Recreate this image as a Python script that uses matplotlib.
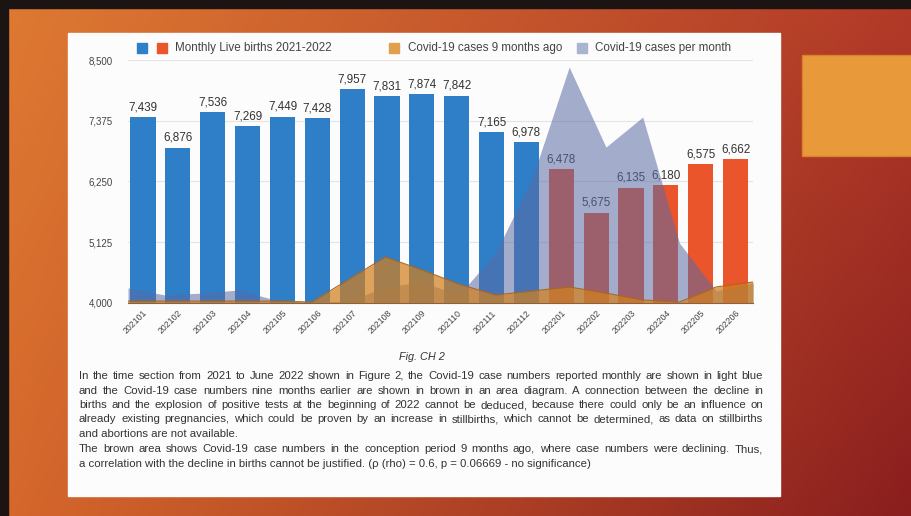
import numpy as np
import matplotlib
matplotlib.use('Agg')
import matplotlib.pyplot as plt
from matplotlib.patches import Rectangle

plt.rcParams['font.family'] = ['Liberation Sans', 'DejaVu Sans']

# monthly live births, 2021-01 .. 2022-06
months = ['202101', '202102', '202103', '202104', '202105', '202106',
          '202107', '202108', '202109', '202110', '202111', '202112',
          '202201', '202202', '202203', '202204', '202205', '202206']
births = [7439, 6876, 7536, 7269, 7449, 7428, 7957, 7831, 7874, 7842,
          7165, 6978, 6478, 5675, 6135, 6180, 6575, 6662]

# covid-19 cases (thousands) per month and 9 months earlier
cases_month = [64, 34, 42, 55, 13, 4, 8, 68, 89, 34, 212, 530,
               1000, 661, 788, 254, 51, 85]
cases_9m_ago = [8, 8, 8, 8, 8, 4, 100, 195, 140, 80, 34, 51,
                68, 42, 13, 4, 68, 89]

yticks = [4000, 5125, 6250, 7375, 8500]

paragraph = [
    ("In the time section from 2021 to June 2022 shown in Figure 2, the Covid-19 case numbers reported monthly are shown in light blue", True),
    ("and the Covid-19 case numbers nine months earlier are shown in brown in an area diagram. A connection between the decline in", True),
    ("births and the explosion of positive tests at the beginning of 2022 cannot be deduced, because there could only be an influence on", True),
    ("already existing pregnancies, which could be proven by an increase in stillbirths, which cannot be determined, as data on stillbirths", True),
    ("and abortions are not available.", False),
    ("The brown area shows Covid-19 case numbers in the conception period 9 months ago, where case numbers were declining. Thus,", True),
    ("a correlation with the decline in births cannot be justified. (\u03c1 (rho) = 0.6, p = 0.06669 - no significance)", False),
]
line_y = [379, 394, 408, 422, 437, 452, 467]

W, H = 912, 516
BLUE = '#2f7fc8'
RED = '#ea552b'
ORANGE = '#d2801e'
SLATE = '#5a6aa2'

fig = plt.figure(figsize=(W / 100, H / 100), dpi=100)


def fx(x):
    return x / W


def fy(y):
    return 1 - y / H


# slide background
bg = fig.add_axes([0, 0, 1, 1])
bg.set_xlim(0, W)
bg.set_ylim(H, 0)
bg.axis('off')
tl = np.array([222, 122, 50]); tr = np.array([178, 58, 40])
bl = np.array([214, 104, 44]); br = np.array([138, 30, 30])
u = np.linspace(0, 1, 200)[None, :, None]
v = np.linspace(0, 1, 120)[:, None, None]
grad = (tl * (1 - u) * (1 - v) + tr * u * (1 - v) + bl * (1 - u) * v + br * u * v) / 255
bg.imshow(grad, extent=[0, W, H, 0], aspect='auto', interpolation='bilinear')
bg.add_patch(Rectangle((0, 0), W, 8, color='#1c1412'))
bg.add_patch(Rectangle((0, 0), 8, H, color='#1c1412'))
bg.add_patch(Rectangle((802, 55), 110, 101, color='#e89a3a', ec='#d8822e', lw=1))
bg.add_patch(Rectangle((68, 33), 712, 463, color='#fcfcfc'))

# bar chart
ax = fig.add_axes([fx(128), fy(303), fx(753) - fx(128), (303 - 60) / H])
ax.patch.set_alpha(0)
x = np.arange(len(months))
colors = [BLUE] * 12 + [RED] * 6
ax.bar(x, births, width=0.72, color=colors, zorder=2)
ax.set_ylim(4000, 8500)
ax.set_xlim(-0.43, 17.5)
ax.set_yticks(yticks)
ax.set_yticklabels([f'{t:,}' for t in yticks], fontsize=7, color='#444444')
ax.tick_params(axis='y', length=0, pad=11)
ax.set_xticks(x)
ax.set_xticklabels(months, rotation=45, ha='right', va='top',
                   rotation_mode='anchor', fontsize=6.3, color='#444444')
ax.tick_params(axis='x', length=0, pad=4)
ax.grid(axis='y', color='#e4e4e4', lw=0.8, zorder=0)
for s in ['top', 'right', 'left']:
    ax.spines[s].set_visible(False)
ax.spines['bottom'].set_color('#6a4a30')
for xi, b in zip(x, births):
    ax.text(xi, b + 70, f'{b:,}', ha='center', va='bottom', fontsize=8.4,
            color='#333333', zorder=3)

# case areas on their own scale, spanning the full plot width
ax2 = fig.add_axes(ax.get_position())
ax2.patch.set_alpha(0)
ax2.axis('off')
ax2.set_xlim(0, 17)
ax2.set_ylim(0, 1030)
ax2.fill_between(x, cases_month, color=SLATE, alpha=0.55, lw=0)
ax2.fill_between(x, cases_9m_ago, color=ORANGE, alpha=0.72, lw=0)
ax2.plot(x, cases_9m_ago, color='#b0651c', lw=0.8)

# legend
items = [([137, 157], [BLUE, RED], 175, 'Monthly Live births 2021-2022'),
         ([389], ['#e0a050'], 408, 'Covid-19 cases 9 months ago'),
         ([577], ['#a9b4d0'], 595, 'Covid-19 cases per month')]
for xs, cs, tx, label in items:
    for sx, c in zip(xs, cs):
        bg.add_patch(Rectangle((sx, 43), 10, 10, color=c))
    bg.text(tx, 48.5, label, fontsize=8.4, color='#444444', va='center')

bg.text(422, 357, 'Fig. CH 2', fontsize=7.8, style='italic', color='#333333',
        ha='center', va='center')

# justified paragraph text, one text per word
fig.canvas.draw()
rend = fig.canvas.get_renderer()
left, right = 79, 763
fs = 8.2
for (line, justify), y in zip(paragraph, line_y):
    if not justify:
        bg.text(left, y, line, fontsize=fs, color='#333333', va='baseline')
        continue
    words = line.split()
    objs = [bg.text(0, y, w, fontsize=fs, color='#333333', va='baseline') for w in words]
    widths = [o.get_window_extent(rend).width for o in objs]
    gap = (right - left - sum(widths)) / (len(words) - 1)
    pos = left
    for o, w in zip(objs, widths):
        o.set_x(pos)
        pos += w + gap

fig.savefig('out.png', dpi=100)
